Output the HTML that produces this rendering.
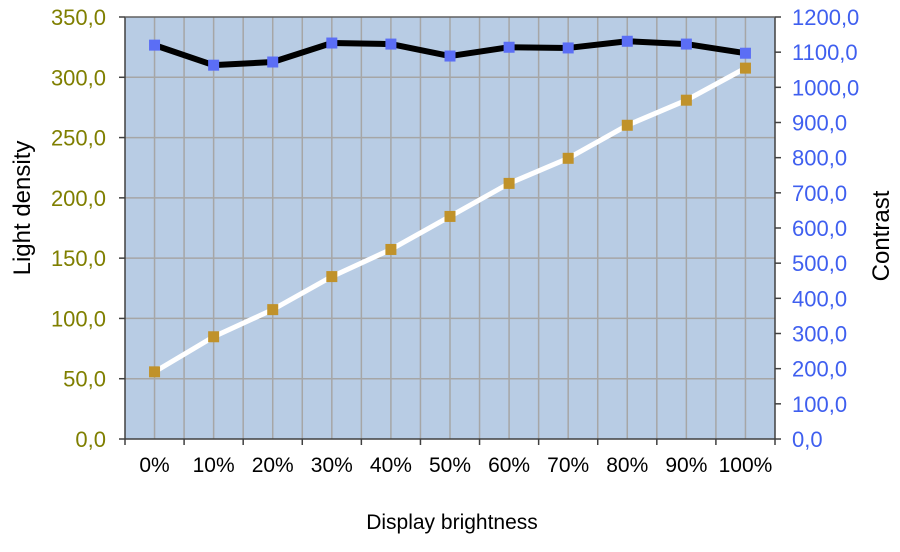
<!DOCTYPE html>
<html><head><meta charset="utf-8"><style>
body{margin:0;background:#fff;}
svg{display:block;font-family:"Liberation Sans",Arial,sans-serif;}
</style></head><body>
<svg id="chart" width="900" height="552"></svg>
<script>
const categories=["0%","10%","20%","30%","40%","50%","60%","70%","80%","90%","100%"];
const lightDensity=[55.7,84.8,107.3,134.7,157.2,184.6,212,232.8,260.2,281,307.6];
const contrast=[1120,1063,1072,1126,1123,1089,1114,1112,1131,1123,1097];
const leftTicks=[0,50,100,150,200,250,300,350];
const rightTicks=[0,100,200,300,400,500,600,700,800,900,1000,1100,1200];
const NS="http://www.w3.org/2000/svg";
const svg=document.getElementById('chart');
const L=125,R=775,T=17,B=439;
const n=categories.length,cw=(R-L)/n;
const xc=i=>L+cw*(i+0.5);
const yl=v=>B-(v/350)*(B-T);
const yr=v=>B-(v/1200)*(B-T);
function mk(tag,attrs,parent){const e=document.createElementNS(NS,tag);for(const k in attrs)e.setAttribute(k,attrs[k]);(parent||svg).appendChild(e);return e;}
const bg=mk('rect',{x:L,y:T,width:R-L,height:B-T,fill:'#b8cce4'});


const grid=mk('g',{stroke:'#a6a6a6','stroke-width':1.5});


for(let i=1;i<2*n;i++){const x=L+cw*i/2;mk('line',{x1:x,x2:x,y1:T,y2:B},grid);}
leftTicks.forEach(v=>{if(v>0&&v<350)mk('line',{x1:L,x2:R,y1:yl(v),y2:yl(v)},grid);});
const axes=mk('g',{stroke:'#404040','stroke-width':1.5});


mk('line',{x1:L,x2:L,y1:T,y2:B},axes);
mk('line',{x1:R,x2:R,y1:T,y2:B},axes);
mk('line',{x1:L,x2:R,y1:B,y2:B},axes);
mk('line',{x1:L,x2:R,y1:T,y2:T,stroke:'#606060'},axes);
for(let i=0;i<=n;i++)mk('line',{x1:L+cw*i,x2:L+cw*i,y1:B,y2:B+6},axes);
leftTicks.forEach(v=>{mk('line',{x1:L-6,x2:L,y1:yl(v),y2:yl(v)},axes);
 const t=mk('text',{x:L-19,y:yl(v)+8,'text-anchor':'end','font-size':22,fill:'#7f7f00'});t.textContent=v.toFixed(1).replace('.',',');
 });
rightTicks.forEach(v=>{mk('line',{x1:R,x2:R+6,y1:yr(v),y2:yr(v)},axes);
 const t=mk('text',{x:R+17,y:yr(v)+8,'text-anchor':'start','font-size':22,fill:'#3f5fef'});t.textContent=v.toFixed(1).replace('.',',');
 });
categories.forEach((c,i)=>{const t=mk('text',{x:xc(i),y:472,'text-anchor':'middle','font-size':21,fill:'#000'});t.textContent=c;
 });
function series(vals,yf,color,mcolor,name,w){
 const g=mk('g',{});
 mk('polyline',{points:vals.map((v,i)=>xc(i)+','+yf(v)).join(' '),fill:'none',stroke:color,'stroke-width':w,'stroke-linejoin':'round'},g);
 vals.forEach((v,i)=>{const r=mk('rect',{x:xc(i)-5.5,y:yf(v)-5.5,width:11,height:11,fill:mcolor},g);
  });
}
series(lightDensity,yl,'#ffffff','#c0922a','light-density-series',5);
series(contrast,yr,'#000000','#5b6ef5','contrast-series',6);
let t=mk('text',{x:452,y:529,'text-anchor':'middle','font-size':21});t.textContent='Display brightness';

t=mk('text',{x:0,y:0,'text-anchor':'middle','font-size':24,transform:'translate(30,208) rotate(-90)'});t.textContent='Light density';

t=mk('text',{x:0,y:0,'text-anchor':'middle','font-size':24,transform:'translate(889,236) rotate(-90)'});t.textContent='Contrast';

</script>
</body></html>
